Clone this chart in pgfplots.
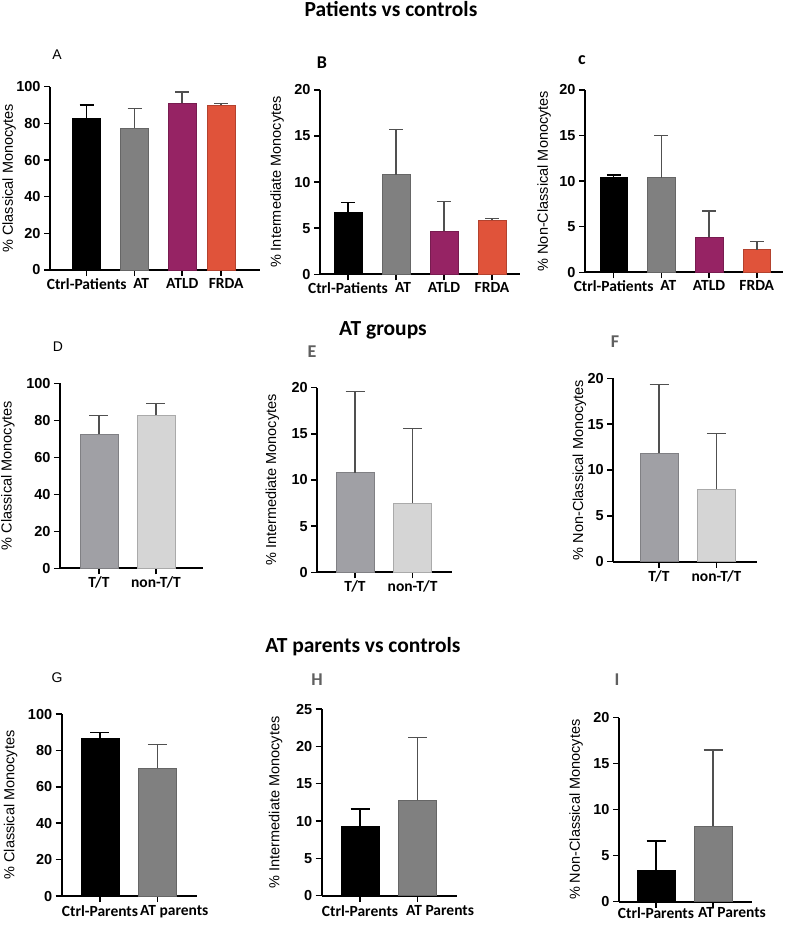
\documentclass[border=0pt]{standalone}
\usepackage{fontspec}
\setmainfont{Liberation Sans}
\newfontfamily\carlito{Carlito}
\usepackage{pgfplots}
\pgfplotsset{compat=1.18}

\definecolor{atgrey}{HTML}{808080}
\definecolor{atld}{HTML}{962364}
\definecolor{frda}{HTML}{E0533A}
\definecolor{tt}{HTML}{A0A0A5}
\definecolor{ntt}{HTML}{D5D5D5}
\definecolor{errgrey}{HTML}{505050}
\definecolor{lettergrey}{HTML}{5F5F5F}

\pgfplotsset{
  panel/.style={
    scale only axis, anchor=south west,
    axis x line*=bottom, axis y line*=left,
    axis line style={line width=1.7pt, black},
    every tick/.style={line width=1.5pt, black},
    tick align=outside, major tick length=6pt,
    minor tick num=0,
    ymin=0, enlargelimits=false, clip=false,
    /pgf/number format/assume math mode=true,
    yticklabel style={font=\fontsize{14.5}{16}\selectfont\bfseries},
    xticklabel style={font=\carlito\bfseries\fontsize{15.5}{17}\selectfont, yshift=1pt},
    ylabel style={font=\fontsize{14.5}{16}\selectfont, anchor=center,
      at={(axis description cs:#1,0.5)}},
    ybar, bar shift=0pt,
    error bars/y dir=plus, error bars/y explicit,
  },
  lowlabels/.style={xticklabel style={yshift=-1pt}},
  bar/.style n args={4}{
    fill=#1, draw=#2, line width=0.6pt, bar width=#3,
    error bars/error bar style={#4, line width=1.5pt},
    error bars/error mark options={rotate=90, #4, line width=1.5pt, mark size=#3/4},
  },
}

\begin{document}
\begin{tikzpicture}
\useasboundingbox (0pt,0pt) rectangle (787pt,-925pt);

% section titles
\node[font=\carlito\bfseries\fontsize{21.5}{24}\selectfont, anchor=base] at (391pt,-17pt) {Patients vs controls};
\node[font=\carlito\bfseries\fontsize{21.5}{24}\selectfont, anchor=base] at (383pt,-335pt) {AT groups};
\node[font=\carlito\bfseries\fontsize{21.5}{24}\selectfont, anchor=base] at (363pt,-652pt) {AT parents vs controls};

% panel letters
\node[font=\fontsize{14}{16}\selectfont] at (57pt,-55pt) {A};
\node[font=\carlito\bfseries\fontsize{18}{20}\selectfont] at (322pt,-63pt) {B};
\node[font=\carlito\bfseries\fontsize{18}{20}\selectfont] at (582pt,-60pt) {c};
\node[font=\fontsize{14}{16}\selectfont] at (58pt,-347pt) {D};
\node[font=\carlito\bfseries\fontsize{18}{20}\selectfont, text=lettergrey] at (312pt,-352pt) {E};
\node[font=\carlito\bfseries\fontsize{18}{20}\selectfont, text=lettergrey] at (615pt,-342pt) {F};
\node[font=\fontsize{14}{16}\selectfont] at (57pt,-678pt) {G};
\node[font=\carlito\bfseries\fontsize{18}{20}\selectfont, text=lettergrey] at (317pt,-680pt) {H};
\node[font=\carlito\bfseries\fontsize{18}{20}\selectfont, text=lettergrey] at (617pt,-680pt) {I};

% ---- A: classical, patients ----
\begin{axis}[panel=-0.195, at={(50pt,-270pt)}, width=210pt, height=183.3pt,
  xmin=-0.765, xmax=3.61, ymax=100, ytick={0,20,...,100},
  xtick={0,1,1.99,2.80}, xticklabels={Ctrl-Patients,\hspace{13pt}AT,ATLD,\hspace{10pt}FRDA},
  ylabel={\% Classical Monocytes}]
\addplot[bar={black}{black}{28pt}{black}] coordinates {(0,83) +- (0,7)};
\addplot[bar={atgrey}{atgrey!80!black}{28pt}{errgrey}] coordinates {(1,77.5) +- (0,10.5)};
\addplot[bar={atld}{atld!80!black}{28pt}{errgrey}] coordinates {(1.99,91) +- (0,6)};
\addplot[bar={frda}{frda!80!black}{28pt}{errgrey}] coordinates {(2.80,90) +- (0,0.8)};
\end{axis}

% ---- B: intermediate, patients ----
\begin{axis}[panel=-0.215, at={(320pt,-274.3pt)}, width=200pt, height=184.3pt,
  xmin=-0.583, xmax=3.583, ymax=20, ytick={0,5,...,20},
  xtick={0,1,2,3}, xticklabels={Ctrl-Patients,\hspace{14pt}AT,ATLD,FRDA},
  ylabel={\% Intermediate Monocytes}]
\addplot[bar={black}{black}{28pt}{black}] coordinates {(0,6.75) +- (0,1.05)};
\addplot[bar={atgrey}{atgrey!80!black}{28pt}{errgrey}] coordinates {(1,10.8) +- (0,4.9)};
\addplot[bar={atld}{atld!80!black}{28pt}{errgrey}] coordinates {(2,4.7) +- (0,3.2)};
\addplot[bar={frda}{frda!80!black}{28pt}{errgrey}] coordinates {(3,5.9) +- (0,0.15)};
\end{axis}

% ---- C: non-classical, patients ----
\begin{axis}[panel=-0.207, at={(585pt,-272.3pt)}, width=198pt, height=182.3pt,
  xmin=-0.60, xmax=3.55, ymax=20, ytick={0,5,...,20},
  xtick={0,1,2,3}, xticklabels={Ctrl-Patients,\hspace{14pt}AT,ATLD,FRDA},
  ylabel={\% Non-Classical Monocytes}]
\addplot[bar={black}{black}{27.5pt}{black}] coordinates {(0,10.4) +- (0,0.25)};
\addplot[bar={atgrey}{atgrey!80!black}{27.5pt}{errgrey}] coordinates {(1,10.4) +- (0,4.6)};
\addplot[bar={atld}{atld!80!black}{27.5pt}{errgrey}] coordinates {(2,3.85) +- (0,2.85)};
\addplot[bar={frda}{frda!80!black}{27.5pt}{errgrey}] coordinates {(3,2.5) +- (0,0.9)};
\end{axis}

% ---- D: classical, AT groups ----
\begin{axis}[panel=-0.364, at={(60pt,-568.3pt)}, width=143pt, height=185pt,
  xmin=-0.684, xmax=1.825, ymax=100, ytick={0,20,...,100},
  xtick={0,1}, xticklabels={T/T,non-T/T},
  ylabel={\% Classical Monocytes}]
\addplot[bar={tt}{tt!80!black}{38pt}{errgrey}] coordinates {(0,72.5) +- (0,10)};
\addplot[bar={ntt}{ntt!80!black}{38pt}{errgrey}] coordinates {(1,82.8) +- (0,6.2)};
\end{axis}

% ---- E: intermediate, AT groups ----
\begin{axis}[panel=-0.335, at={(317.3pt,-572.3pt)}, width=134.4pt, height=184.6pt,
  xmin=-0.656, xmax=1.68, ymax=20, ytick={0,5,...,20},
  xtick={0,1}, xticklabels={T/T,non-T/T},
  ylabel={\% Intermediate Monocytes}]
\addplot[bar={tt}{tt!80!black}{38pt}{errgrey}] coordinates {(0,10.8) +- (0,8.8)};
\addplot[bar={ntt}{ntt!80!black}{38pt}{errgrey}] coordinates {(1,7.5) +- (0,8.1)};
\end{axis}

% ---- F: non-classical, AT groups ----
\begin{axis}[panel=-0.237, at={(613.3pt,-561.7pt)}, width=143.4pt, height=183.4pt,
  xmin=-0.795, xmax=1.70, ymax=20, ytick={0,5,...,20},
  xtick={0,1}, xticklabels={T/T,non-T/T},
  ylabel={\% Non-Classical Monocytes}]
\addplot[bar={tt}{tt!80!black}{38pt}{errgrey}] coordinates {(0,11.8) +- (0,7.55)};
\addplot[bar={ntt}{ntt!80!black}{38pt}{errgrey}] coordinates {(1,7.9) +- (0,6.1)};
\end{axis}

% ---- G: classical, parents ----
\begin{axis}[panel=-0.378, lowlabels, at={(61.7pt,-896pt)}, width=135pt, height=182pt,
  xmin=-0.668, xmax=1.688, ymax=100, ytick={0,20,...,100},
  xtick={0,1}, xticklabels={Ctrl-Parents,\hspace{34pt}AT parents},
  ylabel={\% Classical Monocytes}]
\addplot[bar={black}{black}{38pt}{black}] coordinates {(0,86.6) +- (0,3.3)};
\addplot[bar={atgrey}{atgrey!80!black}{38pt}{errgrey}] coordinates {(1,70.3) +- (0,13)};
\end{axis}

% ---- H: intermediate, parents ----
\begin{axis}[panel=-0.341, lowlabels, at={(321.7pt,-895.7pt)}, width=135pt, height=186.7pt,
  xmin=-0.666, xmax=1.68, ymax=25, ytick={0,5,...,25},
  xtick={0,1}, xticklabels={Ctrl-Parents,\hspace{45pt}AT Parents},
  ylabel={\% Intermediate Monocytes}]
\addplot[bar={black}{black}{38pt}{black}] coordinates {(0,9.3) +- (0,2.3)};
\addplot[bar={atgrey}{atgrey!80!black}{38pt}{errgrey}] coordinates {(1,12.8) +- (0,8.4)};
\end{axis}

% ---- I: non-classical, parents ----
\begin{axis}[panel=-0.324, at={(619pt,-901.7pt)}, width=132.7pt, height=184pt,
  xmin=-0.649, xmax=1.679, ymax=20, ytick={0,5,...,20},
  xtick={0,1}, xticklabels={Ctrl-Parents,\hspace{38pt}AT Parents},
  xticklabel style={yshift=3pt},
  ylabel={\% Non-Classical Monocytes}]
\addplot[bar={black}{black}{38pt}{black}] coordinates {(0,3.4) +- (0,3.2)};
\addplot[bar={atgrey}{atgrey!80!black}{38pt}{errgrey}] coordinates {(1,8.2) +- (0,8.3)};
\end{axis}
\end{tikzpicture}
\end{document}
